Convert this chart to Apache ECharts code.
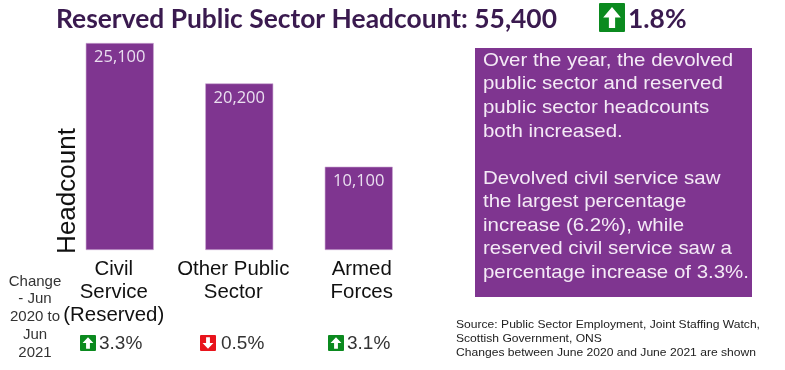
<!DOCTYPE html>
<html><head><meta charset="utf-8">
<style>html,body{margin:0;padding:0;background:#fff}#c{width:785px;height:370px}</style>
<script src="https://cdn.jsdelivr.net/npm/echarts@6/dist/echarts.min.js"></script>
</head><body><div id="c"></div>
<script>
const categories = ['Civil\nService\n(Reserved)', 'Other Public\nSector', 'Armed\nForces'];
const headcount = [25100, 20200, 10100];
const changeText = ['3.3%', '0.5%', '3.1%'];
const changeUp = [true, false, true];
const titleText = 'Reserved Public Sector Headcount: 55,400';
const totalChange = '1.8%';
const commentary = 'Over the year, the devolved\npublic sector and reserved\npublic sector headcounts\nboth increased.\n\nDevolved civil service saw\nthe largest percentage\nincrease (6.2%), while\nreserved civil service saw a\npercentage increase of 3.3%.';
const sourceText = 'Source: Public Sector Employment, Joint Staffing Watch,\nScottish Government, ONS\nChanges between June 2020 and June 2021 are shown';
const rowLabel = 'Change\n- Jun\n2020 to\nJun\n2021';

const PURPLE = '#7f3590', GREEN = '#0b8a1f', RED = '#e8141c', DARK = '#3a1a4f';
const SANS = '"Liberation Sans", Arial, sans-serif';

function arrowIcon(x, y, w, h, up) {
  const c = up ? GREEN : RED;
  const pts = up
    ? [[.5,.14],[.84,.5],[.62,.5],[.62,.86],[.38,.86],[.38,.5],[.16,.5]]
    : [[.5,.86],[.84,.5],[.62,.5],[.62,.14],[.38,.14],[.38,.5],[.16,.5]];
  return [
    {type:'rect', shape:{x:x, y:y, width:w, height:h, r:1}, style:{fill:c}},
    {type:'polygon', shape:{points:pts.map(p=>[x+p[0]*w, y+p[1]*h])}, style:{fill:'#fff'}}
  ];
}
const iconX = [80, 200, 328];
const pctX = [99, 221, 347];
const labelShift = [-6, -6, 3];
const g = [
  {type:'text', x:56, y:6, style:{text:titleText, font:'bold 26.4px Lato, sans-serif', fill:DARK}},
  {type:'text', x:628, y:6, style:{text:totalChange, font:'bold 26.4px Lato, sans-serif', fill:DARK}},
  ...arrowIcon(599, 3, 26, 29, true),
  {type:'text', x:68, y:191, rotation:Math.PI/2, style:{text:'Headcount', font:'26px '+SANS, fill:'#111', align:'center', verticalAlign:'middle'}},
  {type:'text', x:35, y:317, style:{text:rowLabel, font:'15px '+SANS, fill:'#333', align:'center', verticalAlign:'middle', lineHeight:17.7}},
  {type:'rect', shape:{x:475, y:48, width:277, height:249}, style:{fill:PURPLE}},
  {type:'text', x:483, y:49, scaleX:1.105, style:{text:commentary, font:'18.5px '+SANS, fill:'#f4eaf6', lineHeight:23.55}},
  {type:'text', x:456, y:317.5, scaleX:1.1, style:{text:sourceText, font:'11px '+SANS, fill:'#222', lineHeight:14.2}}
];
changeText.forEach((t,i)=>{
  g.push(...arrowIcon(iconX[i], 335, 16, 16, changeUp[i]));
  g.push({type:'text', x:pctX[i], y:334.5, style:{text:t, font:'19px '+SANS, fill:'#333'}});
});
const rich = {};
labelShift.forEach((s,i)=>{
  rich['l'+i] = {fontFamily:SANS, fontSize:20.4, color:'#111', lineHeight:23,
    padding: s<0 ? [0,-2*s,0,0] : [0,0,0,2*s]};
});
const chart = echarts.init(document.getElementById('c'), null, {renderer:'canvas'});
chart.setOption({
  animation:false,
  grid:{left:60, top:43, width:358.5, height:207, containLabel:false},
  xAxis:{type:'category', data:categories, axisLine:{show:false}, axisTick:{show:false},
    axisLabel:{interval:0, margin:8,
      formatter:(v,i)=>v.split('\n').map(l=>'{l'+i+'|'+l+'}').join('\n'),
      rich}},
  yAxis:{type:'value', min:0, max:25100, show:false, splitLine:{show:false}},
  series:[{type:'bar', data:headcount, barWidth:68,
    itemStyle:{color:PURPLE, borderColor:'#c9a6d2', borderWidth:0.6},
    label:{show:true, position:'insideTop', distance:6, color:'#eadff0', fontFamily:'"Open Sans", sans-serif', fontSize:16.5,
      formatter:p=>p.value.toLocaleString('en-GB')}}],
  graphic:g
});
</script></body></html>
